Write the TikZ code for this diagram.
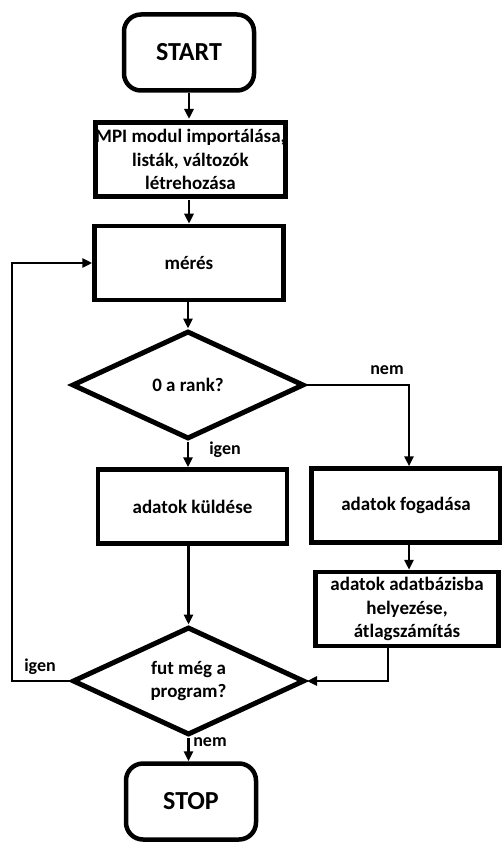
\documentclass[tikz,border=0pt]{standalone}
\usepackage{fontspec}
\setmainfont{Carlito}
\usetikzlibrary{arrows.meta,shapes.geometric}
\begin{document}
\begin{tikzpicture}[x=1pt,y=-1pt,
  every node/.style={font=\bfseries\fontsize{19}{23.5}\selectfont, align=center, inner sep=0pt},
  termbox/.style={draw, line width=4.5pt, rounded corners=17pt, minimum width=130pt, minimum height=76pt, font=\bfseries\fontsize{26}{30}\selectfont},
  procbox/.style={draw, line width=4.5pt, minimum width=189pt, minimum height=74pt},
  decbox/.style={draw, line width=5pt, diamond, aspect=2.12, inner sep=0pt, minimum width=232pt, minimum height=108pt},
  conn/.style={line width=2.5pt, -{Triangle[length=10pt,width=9pt]}},
  lbl/.style={font=\bfseries\fontsize{18}{20}\selectfont}
]
\useasboundingbox[fill=white] (0,0) rectangle (502,842);
\node[termbox] (start) at (189,52.5) {START};
\node[procbox] (mpi) at (190.5,159.5) {MPI modul importálása,\\listák, változók\\létrehozása};
\node[procbox] (meres) at (189,263) {mérés};
\node[decbox] (rank) at (188,385) {0 a rank?};
\node[procbox] (kuld) at (192.5,506.5) {adatok küldése};
\node[procbox] (fogad) at (406,505.5) {adatok fogadása};
\node[procbox, minimum width=183pt] (adat) at (407,609) {adatok adatbázisba\\helyezése,\\átlagszámítás};
\node[decbox] (fut) at (188.5,681) {fut még a\\program?};
\node[termbox] (stop) at (191,801.5) {STOP};
\coordinate (nemc) at (409,385);
\coordinate (adatc) at (388,681);
\coordinate (loopb) at (12,681);
\coordinate (loopt) at (12,263);
\draw[conn] (189,93) -- (189,119);
\draw[conn] (189,200) -- (meres.north -| 189,0);
\draw[conn] (meres.south -| rank.north) -- (rank.north);
\draw[conn] (rank.south) -- (rank.south |- kuld.north);
\draw[conn] (rank.east) -- (nemc) -- (nemc |- fogad.north);
\draw[conn] (fogad.south -| nemc) -- (adat.north -| nemc);
\draw[conn] (kuld.south -| fut.north) -- (fut.north);
\draw[conn] (adatc |- adat.south) -- (adatc) -- (fut.east);
\draw[conn] (fut.west) -- (loopb) -- (loopt) -- (meres.west);
\draw[conn] (fut.south) -- (fut.south |- stop.north);
\node[lbl] (nem1) at (387,370) {nem};
\node[lbl] (igen1) at (225,450) {igen};
\node[lbl] (igen2) at (40,667) {igen};
\node[lbl] (nem2) at (210,742) {nem};
\end{tikzpicture}
\end{document}
